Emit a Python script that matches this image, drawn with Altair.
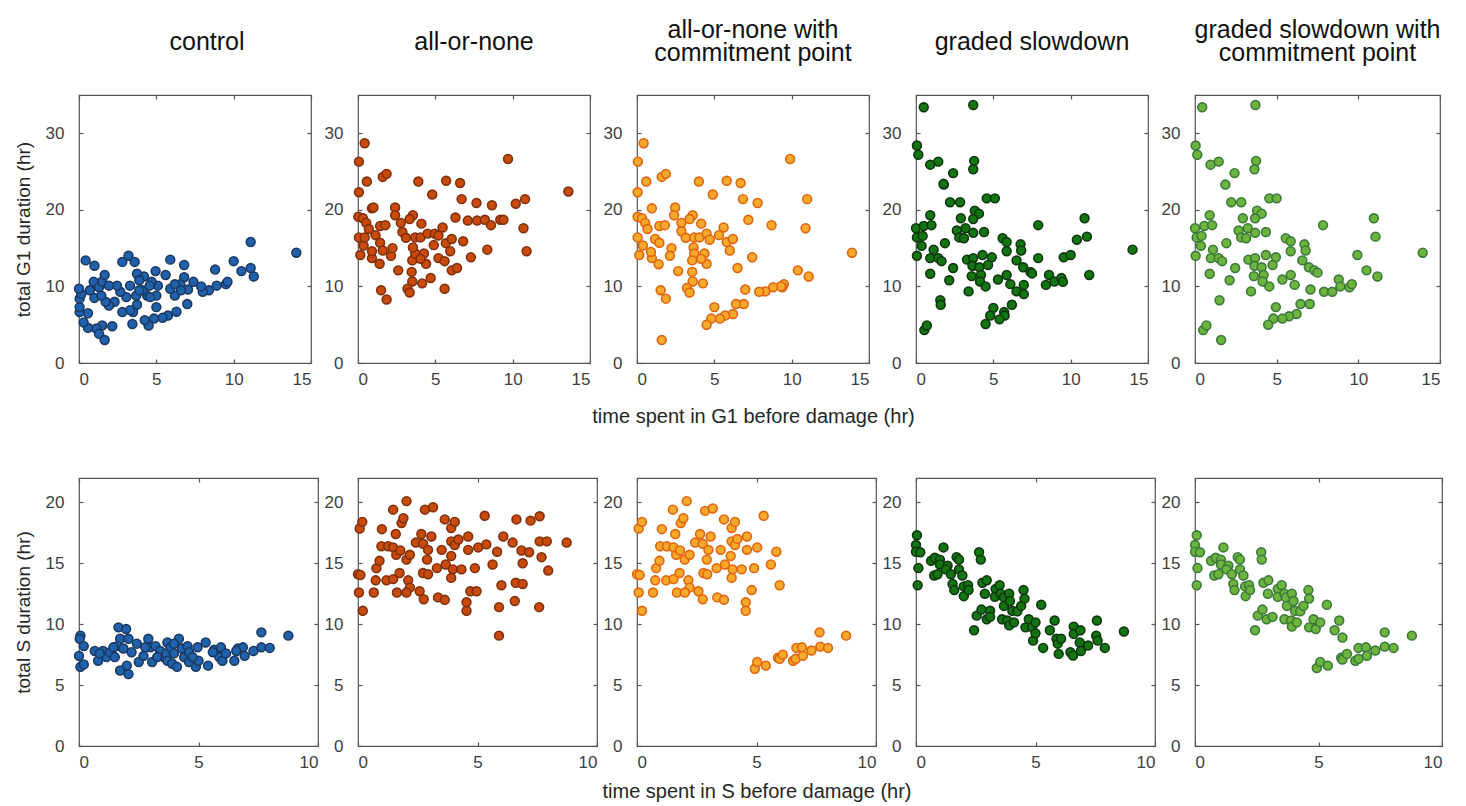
import altair as alt
import pandas as pd

FONT = "Liberation Sans"

TITLES = [
    ["control"],
    ["all-or-none"],
    ["all-or-none with", "commitment point"],
    ["graded slowdown"],
    ["graded slowdown with", "commitment point"],
]

FILLS = ["#1f62ab", "#c94b0b", "#f6a92a", "#127512", "#6db43e"]
EDGES = ["#1b3963", "#80300c", "#e2640f", "#0e360e", "#3b7a3b"]

# ---- G1 damage: (time spent in G1 before damage, total G1 duration), hr ----
G1_CONTROL = [
    (0.43, 13.4), (1.0, 12.7), (3.2, 14.0), (2.8, 13.2), (3.6, 13.2), (5.9, 13.5),
    (6.8, 12.8), (11.1, 15.8), (14.05, 14.4), (10.0, 13.3), (10.5, 12.0), (11.1, 12.4),
    (11.3, 11.3), (8.8, 12.2), (9.5, 10.3), (9.6, 10.6), (8.9, 10.1), (8.4, 9.5),
    (8.0, 9.3), (7.9, 10.0), (7.4, 10.6), (7.05, 9.6), (6.8, 11.2), (6.55, 10.3),
    (7.0, 7.7), (6.3, 6.7), (6.2, 8.8), (5.9, 9.7), (5.75, 6.2), (5.4, 5.9),
    (5.0, 7.3), (4.85, 5.8), (5.0, 8.8), (5.1, 10.1), (4.95, 12.0), (5.6, 11.5),
    (4.7, 10.6), (4.5, 4.9), (4.25, 5.6), (4.4, 8.8), (4.1, 9.5), (4.2, 11.3),
    (3.75, 11.65), (3.9, 10.8), (3.7, 8.8), (3.75, 7.6), (3.5, 6.65), (3.45, 5.1),
    (3.3, 6.9), (2.8, 6.65), (3.06, 8.6), (2.67, 9.3), (2.46, 10.1), (2.3, 8.0),
    (1.94, 7.5), (1.72, 8.0), (2.15, 4.8), (1.5, 4.9), (1.12, 4.5), (1.3, 3.8),
    (1.66, 3.0), (0.58, 4.6), (0.3, 5.3), (0.58, 6.5), (0.04, 6.65), (0.04, 7.3),
    (0.04, 8.4), (0.15, 9.0), (0.0, 9.7), (0.7, 9.5), (0.95, 10.6), (1.0, 8.5),
    (1.3, 9.9), (1.5, 10.65), (1.66, 11.5), (1.94, 10.1), (1.44, 8.8), (4.57, 10.1),
    (4.6, 8.6), (3.9, 9.5), (6.2, 10.3), (6.6, 9.5), (3.3, 10.1),
]

G1_ALL_OR_NONE = [
    (0.43, 28.7), (0.06, 26.3), (9.7, 26.65), (13.6, 22.4), (0.57, 23.7), (1.6, 24.3),
    (1.85, 24.7), (3.9, 23.7), (5.7, 23.8), (6.6, 23.5), (0.06, 22.3), (4.8, 22.0),
    (6.7, 21.4), (7.66, 20.9), (8.66, 20.6), (10.2, 20.8), (10.8, 21.4), (0.9, 20.2),
    (1.0, 20.3), (2.4, 20.3), (2.4, 19.3), (0.02, 19.1), (0.32, 18.9), (0.53, 18.3),
    (0.7, 17.5), (1.43, 17.9), (1.77, 18.0), (2.77, 18.3), (3.55, 19.3), (3.34, 18.8),
    (4.1, 18.2), (2.87, 17.1), (3.1, 16.35), (3.7, 16.4), (4.04, 16.4), (4.5, 16.9),
    (4.96, 16.9), (5.47, 17.7), (5.2, 16.65), (4.9, 15.4), (5.68, 15.65), (6.06, 16.2),
    (6.3, 19.0), (7.1, 18.6), (7.7, 18.6), (8.2, 18.7), (8.6, 18.0), (9.2, 18.7),
    (9.4, 18.7), (10.7, 17.6), (6.8, 15.9), (5.96, 14.6), (8.36, 14.8), (10.9, 14.6),
    (7.3, 13.8), (5.2, 13.7), (5.6, 13.3), (6.06, 12.1), (6.4, 12.4), (4.7, 11.1),
    (5.6, 9.7), (0.06, 16.4), (0.36, 15.35), (0.15, 14.1), (0.9, 13.7), (0.9, 14.6),
    (1.13, 16.7), (1.43, 15.7), (1.6, 14.7), (1.4, 12.96), (2.13, 14.0), (2.23, 15.0),
    (2.6, 12.1), (3.51, 13.4), (3.7, 14.3), (3.55, 15.1), (4.26, 14.3), (4.4, 12.96),
    (4.04, 13.6), (3.47, 11.9), (3.51, 10.65), (4.15, 10.4), (3.2, 9.7), (3.34, 9.2),
    (1.49, 9.5), (1.85, 8.3), (0.43, 16.4),
]

G1_ALL_OR_NONE_CP = [
    (0.43, 28.7), (0.06, 26.3), (9.9, 26.65), (0.6, 23.7), (1.6, 24.3), (1.87, 24.7),
    (4.0, 23.7), (5.8, 23.8), (6.7, 23.5), (0.04, 22.3), (4.9, 22.0), (6.85, 21.4),
    (7.8, 20.9), (11.0, 21.4), (0.96, 20.2), (2.47, 20.3), (2.4, 19.3), (0.04, 19.1),
    (0.32, 18.9), (0.53, 18.3), (0.68, 17.5), (1.45, 17.9), (1.8, 18.0), (2.87, 18.3),
    (3.6, 19.3), (3.4, 18.8), (4.15, 18.2), (7.2, 18.7), (8.7, 18.0), (10.9, 17.6),
    (2.87, 17.2), (3.15, 16.35), (3.7, 16.4), (4.04, 16.4), (4.5, 16.9), (4.7, 16.1),
    (5.3, 16.7), (5.6, 17.7), (5.8, 15.8), (6.2, 16.2), (6.0, 14.7), (7.45, 13.8),
    (6.5, 12.4), (0.04, 16.4), (0.38, 15.35), (0.15, 14.1), (0.96, 13.7), (0.9, 14.5),
    (1.17, 16.2), (1.45, 15.7), (2.23, 15.0), (2.13, 14.0), (1.4, 12.9), (2.66, 12.0),
    (3.66, 15.1), (3.7, 14.3), (3.57, 13.4), (4.36, 14.3), (4.5, 12.96), (4.15, 13.6),
    (3.57, 11.9), (3.6, 10.65), (4.26, 10.4), (3.23, 9.8), (3.4, 9.2), (1.53, 9.5),
    (1.87, 8.4), (1.6, 3.0), (13.9, 14.4), (10.4, 12.1), (11.1, 11.3), (9.5, 10.3),
    (9.4, 9.9), (9.3, 10.0), (8.8, 9.9), (8.3, 9.35), (7.9, 9.3), (7.0, 9.6),
    (6.9, 7.7), (6.4, 7.7), (6.2, 6.4), (5.7, 6.2), (5.36, 5.8), (5.0, 7.3),
    (4.8, 5.8), (4.5, 5.0),
]

G1_GRADED = [
    (0.5, 33.4), (3.7, 33.7), (0.06, 28.4), (0.15, 27.2), (0.92, 25.9), (1.44, 26.3),
    (3.76, 26.4), (3.7, 25.3), (2.4, 24.8), (1.8, 23.3), (1.78, 23.4), (2.2, 21.0),
    (2.85, 21.0), (4.57, 21.5), (5.1, 21.5), (0.92, 19.3), (3.8, 19.9), (4.07, 19.5),
    (2.9, 18.9), (3.7, 18.8), (10.9, 18.9), (7.9, 18.0), (0.0, 17.6), (0.5, 17.9),
    (1.0, 18.0), (3.2, 17.6), (2.64, 17.3), (2.8, 16.4), (3.1, 16.3), (3.7, 17.0),
    (4.4, 17.1), (0.06, 16.4), (0.43, 16.6), (0.36, 15.3), (1.87, 15.65), (5.6, 16.3),
    (5.86, 15.8), (6.76, 15.5), (6.8, 14.7), (5.86, 14.6), (10.4, 16.1), (11.05, 16.5),
    (14.0, 14.8), (9.55, 13.8), (10.0, 14.1), (7.9, 13.7), (0.06, 14.0), (1.14, 14.8),
    (0.92, 13.7), (1.44, 13.7), (1.65, 13.3), (2.4, 12.4), (0.92, 11.65), (2.15, 10.8),
    (3.3, 13.5), (3.7, 13.7), (4.3, 14.1), (4.9, 13.8), (3.65, 12.7), (4.1, 12.5),
    (4.66, 12.8), (3.6, 11.35), (4.2, 11.5), (4.14, 10.65), (4.5, 10.0), (3.4, 9.35),
    (5.3, 10.9), (5.86, 11.5), (6.1, 10.3), (6.5, 9.35), (6.97, 10.2), (6.97, 9.0),
    (6.5, 13.4), (6.93, 12.5), (7.4, 11.9), (7.5, 11.7), (8.6, 11.5), (8.4, 10.2),
    (8.95, 10.65), (9.4, 11.1), (9.5, 10.6), (11.2, 11.5), (1.57, 8.2), (1.6, 7.6),
    (6.2, 7.6), (5.7, 6.65), (5.73, 6.2), (5.0, 7.2), (4.8, 6.2), (5.4, 5.7),
    (4.5, 5.1), (0.54, 4.3), (0.7, 4.9),
]

G1_GRADED_CP = [
    (0.44, 33.4), (3.7, 33.7), (0.04, 28.4), (0.14, 27.2), (0.95, 25.9), (1.45, 26.3),
    (3.74, 26.4), (3.64, 25.3), (2.42, 24.8), (1.86, 23.3), (2.22, 21.0), (2.83, 21.0),
    (4.55, 21.5), (5.0, 21.5), (0.9, 19.3), (3.8, 19.9), (4.08, 19.5), (2.93, 18.9),
    (3.68, 18.9), (10.95, 18.9), (7.84, 18.0), (0.0, 17.6), (0.57, 17.9), (1.05, 18.0),
    (3.23, 17.6), (2.67, 17.3), (2.83, 16.4), (3.13, 16.3), (3.68, 17.0), (4.34, 17.1),
    (0.1, 16.4), (0.4, 16.6), (0.36, 15.3), (1.92, 15.65), (5.56, 16.3), (5.86, 15.9),
    (6.7, 15.5), (6.77, 14.7), (5.86, 14.6), (11.05, 16.5), (13.94, 14.4), (9.94, 14.1),
    (0.04, 14.0), (1.1, 14.8), (0.97, 13.7), (1.45, 13.7), (1.66, 13.3), (2.46, 12.4),
    (0.9, 11.65), (2.12, 10.8), (3.27, 13.5), (3.68, 13.7), (4.34, 14.1), (4.95, 13.8),
    (3.64, 12.7), (4.08, 12.5), (4.75, 12.8), (3.6, 11.35), (4.2, 11.5), (4.14, 10.65),
    (4.55, 10.0), (3.43, 9.35), (5.35, 10.9), (5.86, 11.5), (6.1, 10.2), (6.57, 13.4),
    (6.97, 12.5), (7.3, 12.1), (7.5, 11.8), (10.5, 12.1), (11.17, 11.3), (7.07, 9.6),
    (7.9, 9.3), (8.4, 9.3), (8.8, 10.9), (8.9, 10.0), (9.46, 9.9), (9.6, 10.3),
    (6.46, 7.7), (7.03, 7.7), (6.22, 6.4), (5.76, 6.1), (5.35, 5.8), (4.95, 7.3),
    (4.8, 5.8), (4.48, 5.0), (1.5, 8.2), (1.6, 3.0), (0.5, 4.3), (0.7, 4.9),
]

# ---- S damage: (time spent in S before damage, total S duration), hr ----
S_CONTROL = [
    (0.06, 9.06), (0.03, 8.8), (0.0, 7.4), (0.06, 6.5), (0.2, 6.7), (0.2, 8.2),
    (0.66, 7.8), (0.8, 7.0), (1.0, 7.8), (1.15, 7.3), (1.3, 7.7), (1.5, 7.3),
    (1.65, 9.74), (1.97, 9.6), (1.72, 8.8), (2.07, 8.8), (1.6, 8.2), (1.86, 8.0),
    (2.2, 7.7), (2.42, 8.4), (1.72, 6.2), (2.07, 5.9), (2.0, 6.6), (2.5, 6.9),
    (2.7, 7.4), (2.9, 8.8), (2.99, 8.1), (3.06, 6.9), (3.2, 8.2), (3.4, 7.8),
    (3.55, 7.3), (3.7, 8.5), (3.66, 7.6), (3.7, 7.0), (3.83, 8.1), (3.97, 7.6),
    (3.9, 6.75), (4.1, 6.5), (4.18, 8.8), (4.3, 8.0), (4.4, 7.3), (4.54, 8.2),
    (4.6, 7.7), (4.6, 6.9), (4.89, 6.5), (4.96, 8.1), (5.0, 7.0), (5.3, 8.5),
    (5.4, 6.6), (5.66, 7.9), (5.94, 8.1), (5.87, 7.3), (6.0, 7.0), (6.15, 7.6),
    (6.5, 7.0), (6.65, 8.0), (6.86, 8.1), (6.93, 7.4), (7.3, 7.8), (7.63, 9.33),
    (7.63, 8.1), (7.98, 8.05), (8.76, 9.06), (6.58, 7.8), (0.87, 7.6), (2.77, 8.1),
    (3.97, 8.4), (4.75, 7.3), (5.6, 7.7), (1.44, 8.1), (3.27, 7.3),
]

S_ALL_OR_NONE = [
    (0.07, 17.85), (0.18, 18.4), (0.0, 14.1), (0.1, 14.04), (0.04, 12.6), (0.2, 11.1),
    (0.66, 12.6), (0.77, 14.6), (0.9, 15.2), (0.74, 13.6), (1.0, 17.8), (0.98, 16.4),
    (1.26, 16.4), (1.47, 19.4), (1.58, 17.4), (1.47, 16.3), (1.6, 15.7), (1.77, 16.05),
    (1.19, 13.6), (1.47, 13.7), (1.63, 12.6), (1.74, 14.2), (1.82, 18.3), (1.9, 18.7),
    (2.03, 20.1), (2.03, 15.3), (2.17, 15.7), (2.1, 13.6), (2.17, 13.0), (2.03, 12.6),
    (2.42, 16.7), (2.65, 17.4), (2.72, 16.6), (2.93, 16.1), (3.07, 17.2), (2.58, 12.7),
    (2.75, 12.05), (2.8, 19.4), (3.14, 19.6), (2.89, 15.3), (2.72, 14.2), (2.93, 14.1),
    (3.3, 14.6), (3.5, 16.1), (3.35, 12.2), (3.63, 12.0), (3.63, 18.6), (3.9, 17.9),
    (4.05, 18.4), (3.9, 16.8), (4.05, 16.5), (4.2, 16.95), (3.67, 14.9), (3.9, 15.6),
    (3.97, 14.5), (3.9, 13.8), (4.33, 14.5), (4.61, 17.2), (4.61, 16.1), (4.54, 11.8),
    (4.54, 11.1), (4.7, 12.7), (4.89, 14.6), (4.96, 12.7), (5.03, 16.3), (5.3, 18.9),
    (5.37, 16.55), (5.63, 14.9), (5.82, 15.95), (6.0, 13.2), (5.9, 11.4), (5.9, 9.06),
    (6.08, 17.2), (6.47, 16.7), (6.63, 18.6), (6.56, 11.9), (6.6, 13.4), (6.89, 13.3),
    (6.84, 16.05), (6.89, 15.0), (7.16, 15.9), (7.22, 18.5), (7.6, 18.86), (7.6, 16.8),
    (7.9, 16.8), (7.68, 15.5), (7.96, 14.4), (7.58, 11.4), (8.73, 16.7),
]

S_ALL_OR_NONE_CP = [
    (0.07, 17.85), (0.21, 18.4), (0.0, 14.1), (0.11, 14.04), (0.07, 12.6), (0.21, 11.1),
    (0.67, 12.6), (0.8, 14.6), (0.94, 15.2), (0.76, 13.6), (1.04, 17.8), (0.97, 16.4),
    (1.25, 16.4), (1.5, 19.4), (1.6, 17.4), (1.53, 16.3), (1.64, 15.7), (1.8, 16.05),
    (1.22, 13.6), (1.53, 13.7), (1.67, 12.6), (1.78, 14.2), (1.83, 18.3), (1.94, 18.7),
    (2.08, 20.1), (2.0, 15.3), (2.2, 15.7), (2.15, 13.6), (2.2, 13.0), (2.0, 12.6),
    (2.43, 16.7), (2.64, 17.4), (2.75, 16.6), (2.99, 16.1), (3.08, 17.2), (2.57, 12.7),
    (2.75, 12.05), (2.85, 19.3), (3.17, 19.5), (2.92, 15.3), (2.78, 14.2), (2.94, 14.1),
    (3.33, 14.6), (3.5, 16.1), (3.36, 12.2), (3.64, 12.0), (3.64, 18.6), (3.96, 17.9),
    (4.1, 18.4), (3.96, 16.8), (4.1, 16.5), (4.2, 17.0), (3.68, 14.9), (3.92, 15.6),
    (4.0, 14.5), (3.96, 13.8), (4.38, 14.5), (4.6, 17.2), (4.6, 16.1), (4.55, 11.8),
    (4.55, 11.1), (4.8, 12.8), (4.9, 14.6), (5.03, 16.3), (5.3, 18.9), (5.6, 14.9),
    (5.83, 15.95), (5.97, 13.2), (4.93, 6.34), (5.03, 6.9), (5.39, 6.6), (5.9, 7.24),
    (5.97, 7.16), (6.1, 7.5), (6.53, 7.0), (6.67, 8.05), (6.64, 7.16), (6.9, 8.1),
    (6.94, 7.4), (7.3, 7.84), (7.64, 9.33), (7.67, 8.16), (7.99, 8.05), (8.75, 9.06),
]

S_GRADED = [
    (0.04, 17.3), (0.0, 16.5), (0.0, 15.95), (0.18, 15.9), (0.1, 14.6), (0.07, 13.2),
    (0.63, 15.2), (0.79, 15.45), (1.0, 15.3), (1.0, 14.9), (0.76, 14.0), (0.9, 14.1),
    (1.15, 16.3), (1.32, 14.8), (1.25, 14.5), (1.46, 14.1), (1.53, 13.3), (1.6, 12.8),
    (1.7, 15.5), (1.8, 15.3), (1.8, 14.5), (1.94, 14.0), (2.0, 13.1), (2.0, 12.3),
    (2.18, 13.2), (2.2, 12.8), (2.64, 15.9), (2.71, 15.3), (2.43, 9.5), (2.54, 10.7),
    (2.74, 11.2), (2.96, 10.4), (2.78, 13.4), (2.96, 13.6), (2.88, 12.5), (3.1, 11.1),
    (3.1, 10.6), (3.33, 12.9), (3.5, 13.2), (3.3, 12.25), (3.54, 12.5), (3.68, 12.2),
    (3.68, 11.5), (3.6, 10.4), (3.9, 12.5), (3.93, 11.9), (3.82, 10.3), (3.9, 9.9),
    (4.03, 11.1), (4.1, 10.15), (4.24, 11.05), (4.4, 11.5), (4.5, 12.8), (4.54, 12.1),
    (4.58, 9.74), (4.72, 10.4), (4.86, 9.74), (5.0, 10.15), (4.9, 8.65), (5.0, 9.25),
    (5.24, 11.6), (5.32, 8.05), (5.6, 9.5), (5.8, 10.3), (5.88, 8.8), (5.93, 8.4),
    (6.07, 8.8), (5.97, 7.56), (6.46, 7.7), (6.57, 7.43), (6.6, 9.8), (6.6, 9.2),
    (6.88, 9.5), (6.85, 8.5), (6.9, 7.8), (7.2, 8.25), (7.57, 10.3), (7.54, 9.06),
    (7.6, 8.65), (7.9, 8.05), (8.7, 9.4),
]

S_GRADED_CP = [
    (0.07, 17.3), (0.0, 16.5), (0.0, 15.95), (0.2, 15.9), (0.1, 14.6), (0.07, 13.2),
    (0.65, 15.2), (0.84, 15.45), (1.05, 15.3), (1.05, 14.9), (0.78, 14.0), (0.95, 14.1),
    (1.15, 16.3), (1.35, 14.8), (1.28, 14.5), (1.49, 14.1), (1.55, 13.3), (1.6, 12.8),
    (1.73, 15.5), (1.82, 15.3), (1.82, 14.5), (1.96, 14.0), (2.03, 13.1), (2.05, 12.3),
    (2.19, 13.2), (2.23, 12.8), (2.68, 15.9), (2.7, 15.3), (2.43, 9.5), (2.54, 10.7),
    (2.73, 11.2), (2.9, 10.4), (2.77, 13.4), (2.97, 13.6), (2.95, 12.5), (3.14, 10.6),
    (3.35, 12.9), (3.51, 13.2), (3.35, 12.25), (3.62, 12.5), (3.68, 12.2), (3.72, 11.5),
    (3.62, 10.4), (3.92, 12.5), (3.99, 11.9), (3.89, 10.3), (3.92, 9.8), (4.05, 11.1),
    (4.12, 10.15), (4.26, 11.05), (4.39, 11.5), (4.59, 12.8), (4.62, 12.1), (4.62, 9.74),
    (4.8, 10.4), (4.89, 9.6), (5.07, 10.15), (5.34, 11.6), (5.65, 9.5), (5.84, 10.3),
    (5.97, 8.9), (4.93, 6.4), (5.07, 6.9), (5.38, 6.6), (5.92, 7.24), (5.97, 7.1),
    (6.15, 7.56), (6.49, 7.0), (6.62, 8.05), (6.62, 7.16), (6.92, 8.1), (6.96, 7.4),
    (7.3, 7.84), (7.68, 9.33), (7.68, 8.16), (8.04, 8.05), (8.78, 9.06),
]

G1_SETS = [G1_CONTROL, G1_ALL_OR_NONE, G1_ALL_OR_NONE_CP, G1_GRADED, G1_GRADED_CP]
S_SETS = [S_CONTROL, S_ALL_OR_NONE, S_ALL_OR_NONE_CP, S_GRADED, S_GRADED_CP]

G1_X_TICKS = [0, 5, 10, 15]
G1_Y_TICKS = [0, 10, 20, 30]
S_X_TICKS = [0, 5, 10]
S_Y_TICKS = [0, 5, 10, 15, 20]

TICK_LEN = 4
TITLE_LINE = 23


def panel(points, i, xdom, ydom, xticks, yticks, width, height,
          title=None, title_dx=0, ytitle=None, xtitle=None, x_title_pad=20):
    df = pd.DataFrame(points, columns=["t", "d"])
    base = alt.Chart(df)

    x_axis = dict(values=xticks, orient="bottom", offset=-TICK_LEN, tickSize=TICK_LEN,
                  domain=False, grid=False, labelPadding=8, titlePadding=x_title_pad,
                  titleFontSize=20)
    y_axis = dict(values=yticks, orient="left", offset=-TICK_LEN, tickSize=TICK_LEN,
                  domain=False, grid=False, labelPadding=15, titlePadding=12)

    dots = base.mark_circle(size=78, color=FILLS[i], stroke=EDGES[i],
                            strokeWidth=1.6, opacity=1).encode(
        x=alt.X("t:Q", scale=alt.Scale(domain=xdom, nice=False, zero=False),
                axis=alt.Axis(**x_axis), title=xtitle),
        y=alt.Y("d:Q", scale=alt.Scale(domain=ydom, nice=False, zero=False),
                axis=alt.Axis(**y_axis), title=ytitle),
    )
    # mirrored inward ticks along the top and right edges of the box
    mirror = base.mark_circle(opacity=0).encode(
        x=alt.X("t:Q", axis=alt.Axis(values=xticks, orient="top", offset=-TICK_LEN,
                                     tickSize=TICK_LEN, labels=False, domain=False,
                                     grid=False), title=None),
        y=alt.Y("d:Q", axis=alt.Axis(values=yticks, orient="right", offset=-TICK_LEN,
                                     tickSize=TICK_LEN, labels=False, domain=False,
                                     grid=False), title=None),
    )
    layered = alt.layer(dots, mirror).resolve_axis(x="independent", y="independent")
    props = dict(width=width, height=height)
    if title is not None:
        # two-line headings sit half a line lower so every heading is centred alike
        shift = (len(title) - 1) * TITLE_LINE // 2
        props["title"] = alt.TitleParams(text=title, anchor="middle", frame="group",
                                         baseline="middle", offset=27 - shift,
                                         lineHeight=TITLE_LINE, dx=title_dx)
    return layered.properties(**props)


top_widths = [232, 232, 232, 232, 245]
bottom_widths = [239, 239, 239, 239, 247]

panels = []
for i, pts in enumerate(G1_SETS):
    panels.append(panel(
        pts, i, [0, 15], [0, 35], G1_X_TICKS, G1_Y_TICKS, top_widths[i], 268,
        title=TITLES[i], title_dx=12 if i == 0 else 0,
        ytitle="total G1 duration (hr)" if i == 0 else None,
        xtitle="time spent in G1 before damage (hr)" if i == 2 else None,
        x_title_pad=19,
    ))

for i, pts in enumerate(S_SETS):
    panels.append(panel(
        pts, i, [0, 10], [0, 22], S_X_TICKS, S_Y_TICKS, bottom_widths[i], 268,
        ytitle="total S duration (hr)" if i == 0 else None,
        xtitle="time spent in S before damage (hr)" if i == 2 else None,
        x_title_pad=11,
    ))

chart = alt.concat(
    *panels, columns=5, spacing={"row": 115, "column": 40}, bounds="flush",
).properties(
    padding={"left": 13, "top": 17, "right": 10, "bottom": 6},
    background="white",
).configure_view(
    stroke="#555555", strokeWidth=1.2,
).configure_axis(
    labelFont=FONT, labelFontSize=17, labelColor="#404040",
    titleFont=FONT, titleFontSize=19, titleColor="#262626", titleFontWeight="normal",
    tickColor="#555555", tickWidth=1.2,
).configure_title(
    font=FONT, fontSize=25, fontWeight="normal", color="#111111",
)

chart.save("out.html", embed_options={"renderer": "svg", "actions": False})
